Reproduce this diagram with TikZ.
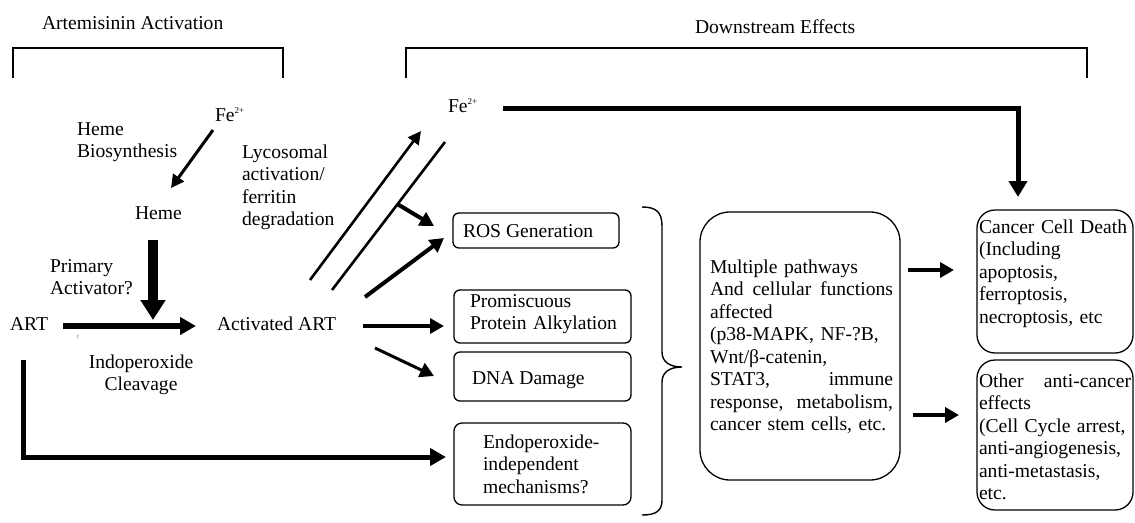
\documentclass[tikz,border=0pt]{standalone}
\usepackage{fontspec}
\setmainfont{Liberation Serif}
\usetikzlibrary{arrows.meta,calc}
\begin{document}
\begin{tikzpicture}[x=1pt,y=-1pt,
  txt/.style={inner sep=0pt, outer sep=0pt, anchor=base west, font=\fontsize{19.6}{22.5}\selectfont},
  txtw/.style={txt, text width=#1, align=left},
  box/.style={draw, line width=1.3pt, inner sep=0pt, outer sep=0pt, rounded corners=#1},
  bracket/.style={line width=1.6pt},
  arrA/.style={line width=#1, -{Triangle[width=15pt,length=14pt]}},
  arrB/.style={line width=#1, -{Triangle[width=13pt,length=13pt]}},
  plain/.style={line width=#1},
]
\useasboundingbox (0,0) rectangle (1135,522);

% titles and brackets
\node[txt] (t1) at (42,29) {Artemisinin Activation};
\node[txt] (t2) at (695,33) {Downstream Effects};
\draw[bracket] (13,78) |- (283,48) -- (283,78);
\draw[bracket] (406,78) |- (1087,48) -- (1087,78);

% left side labels
\node[txt] (fe1) at (215,121) {Fe\textsuperscript{\fontsize{9}{9}\selectfont 2+}};
\node[txtw=110pt] (hb) at (77,135) {Heme\\Biosynthesis};
\node[txtw=110pt] (lyc) at (242,158) {Lycosomal\\activation/\\ferritin\\degradation};
\node[txt] (heme) at (135,219) {Heme};
\node[txtw=110pt] (prim) at (50,272) {Primary\\Activator?};
\node[txt] (art) at (10,330) {ART};
\node[txt] (aart) at (217,330) {Activated ART};
\node[txt, anchor=base, text width=130pt, align=center] (cleav) at (141,368) {Indoperoxide\\Cleavage};
\node[inner sep=0pt, font=\fontsize{7}{7}\selectfont, text=gray] (stray) at (78,337) {r};
\node[txt] (fe2) at (448,112) {Fe\textsuperscript{\fontsize{9}{9}\selectfont 2+}};

% middle boxes
\node[box=6pt, minimum width=166pt, minimum height=35pt] (ros) at (536,230.5) {};
\node[txt] (rost) at (463,237) {ROS Generation};
\node[box=6pt, minimum width=177pt, minimum height=53pt] (prom) at (542.5,316.5) {};
\node[txtw=160pt] (promt) at (470,307) {Promiscuous\\Protein Alkylation};
\node[box=6pt, minimum width=177pt, minimum height=49pt] (dna) at (542.5,376.5) {};
\node[txt] (dnat) at (472,384) {DNA Damage};
\node[box=8pt, minimum width=177pt, minimum height=82pt] (endo) at (542.5,464) {};
\node[txtw=145pt] (endot) at (483,448) {Endoperoxide-\\independent\\mechanisms?};

% brace
\draw[line width=1.4pt] (642,207) .. controls (656,207) and (662,212) .. (662,226) -- (662,352)
  .. controls (662,362) and (670,367) .. (682,367)
  .. controls (670,367) and (662,372) .. (662,382) -- (662,500)
  .. controls (662,511) and (656,515) .. (642,515);

% multiple pathways box
\node[box=30pt, minimum width=200pt, minimum height=268pt] (multi) at (800,346) {};
\node[txtw=183pt] (multit) at (710,273) {Multiple pathways\\And\hfill cellular\hfill functions\\affected\\(p38-MAPK, NF-?B,\\Wnt/β-catenin,\\STAT3,\hfill immune\\response,\hfill metabolism,\\cancer stem cells, etc.};

% right boxes
\node[box=18pt, minimum width=156pt, minimum height=143pt] (death) at (1055,281.5) {};
\node[txtw=152pt] (deatht) at (979,233) {Cancer Cell Death\\(Including\\apoptosis,\\ferroptosis,\\necroptosis, etc};
\node[box=18pt, minimum width=156pt, minimum height=150pt] (other) at (1055,435) {};
\node[txtw=152pt] (othert) at (979,387) {Other\hfill anti-cancer\\effects\\(Cell Cycle arrest,\\anti-angiogenesis,\\anti-metastasis,\\etc.};

% connector end points
\coordinate (a1s) at (213,130); \coordinate (a1e) at (171,188);
\coordinate (a2s) at (153,240); \coordinate (a2e) at (153,320);
\coordinate (a3s) at (63,326);  \coordinate (a3e) at (196,326);
\coordinate (a4s) at (23,360);  \coordinate (a4e) at (446,457);
\coordinate (l1s) at (310,280); \coordinate (l1e) at (421,131);
\coordinate (l2s) at (332,290); \coordinate (l2e) at (445,142);
\coordinate (brs) at ($(l2s)!0.58!(l2e)$); \coordinate (bre) at (434,226);
\coordinate (a5s) at (365,297); \coordinate (a5e) at (444,238);
\coordinate (a6s) at (363,326); \coordinate (a6e) at (444,326);
\coordinate (a7s) at (375,348); \coordinate (a7e) at (434,376);
\coordinate (a8s) at (503,108); \coordinate (a8e) at (1018,197);
\coordinate (a9s) at (908,270); \coordinate (a9e) at (954,270);
\coordinate (a10s) at (913,415); \coordinate (a10e) at (959,415);

% connectors
\draw[arrB=3pt] (a1s) -- (a1e);
\draw[line width=10pt, -{Triangle[width=24pt,length=20pt]}] (a2s) -- (a2e);
\draw[line width=6pt, -{Triangle[width=17pt,length=16pt]}] (a3s) -- (a3e);
\draw[line width=5pt, -{Triangle[width=17pt,length=16pt]}] (a4s) |- (a4e);
\draw[arrB=2.6pt] (l1s) -- (l1e);
\draw[plain=2.6pt] (l2s) -- (l2e);
\draw[arrA=4pt] (brs) -- (bre);
\draw[arrA=4pt] (a5s) -- (a5e);
\draw[arrA=4pt] (a6s) -- (a6e);
\draw[arrA=3pt] (a7s) -- (a7e);
\draw[line width=5pt, -{Triangle[width=18pt,length=16pt]}] (a8s) -| (a8e);
\draw[arrA=4pt] (a9s) -- (a9e);
\draw[arrA=4pt] (a10s) -- (a10e);
\end{tikzpicture}
\end{document}
